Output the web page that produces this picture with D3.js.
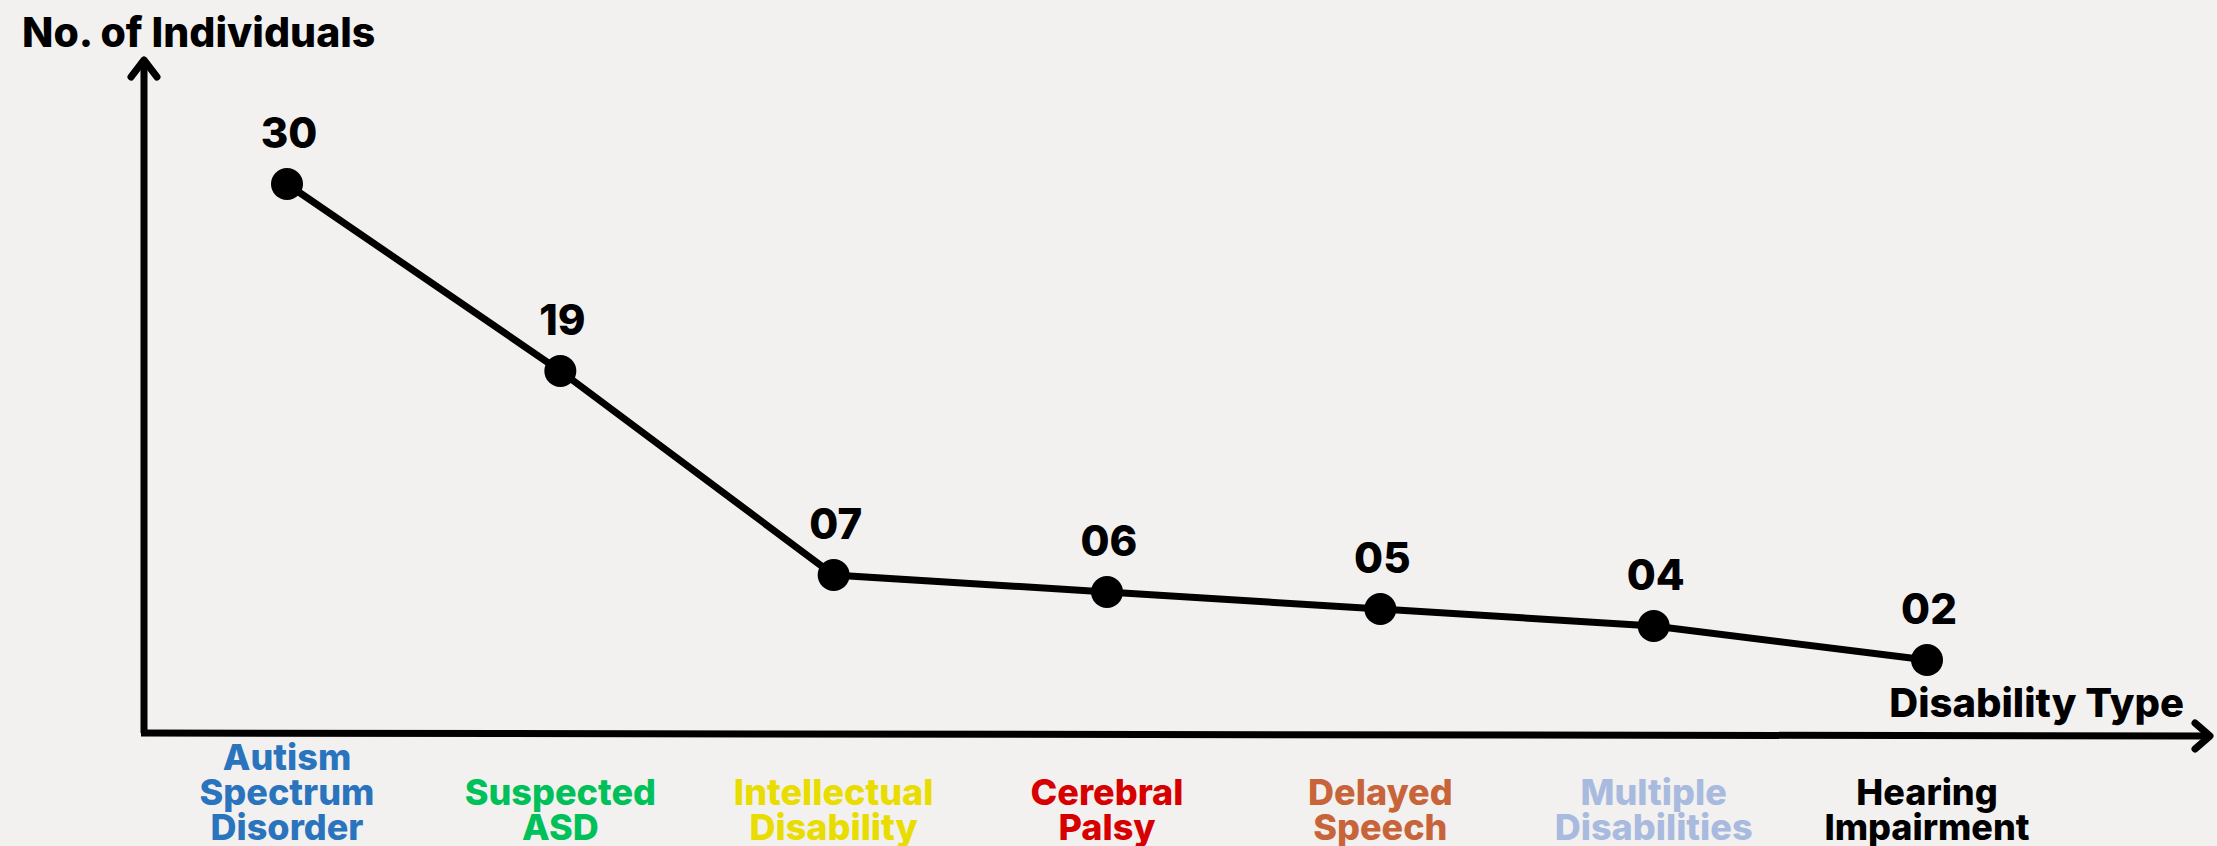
<!DOCTYPE html>
<html>
<head>
<meta charset="utf-8">
<script src="https://cdn.jsdelivr.net/npm/d3@7"></script>
<style>
  body { margin: 0; background: #f2f1ef; }
  svg { display: block; }
</style>
</head>
<body>
<svg></svg>
<script>
// data
const categories = [
  ["Autism", "Spectrum", "Disorder"],
  ["Suspected", "ASD"],
  ["Intellectual", "Disability"],
  ["Cerebral", "Palsy"],
  ["Delayed", "Speech"],
  ["Multiple", "Disabilities"],
  ["Hearing", "Impairment"]
]
const counts = [30, 19, 7, 6, 5, 4, 2]
const valueLabels = ["30", "19", "07", "06", "05", "04", "02"]
const catColors = ["#2a74be", "#00c05a", "#e9dc00", "#d60000", "#c8643a", "#a9badf", "#000000"]

const width = 2217
const height = 846
const font = "Inter, 'Noto Sans', sans-serif"

const svg = d3.select("svg")
    .attr("width", width)
    .attr("height", height)

svg.append("rect")
    .attr("width", width)
    .attr("height", height)
    .attr("fill", "#f2f1ef")

const x = d3.scalePoint()
    .domain(d3.range(counts.length))
    .range([287, 1927])

const y = d3.scaleLinear()
    .domain([0, 30])
    .range([694, 184])

const axisX0 = 144
const axisY0 = 733

// axes with open arrow heads
svg.append("path")
    .attr("d", `M${axisX0},${axisY0} L${axisX0},60`)
    .style("stroke", "#000").style("stroke-width", 7).style("fill", "none")
svg.append("path")
    .attr("d", `M${axisX0 - 13},77 L${axisX0},60 L${axisX0 + 13},77`)
    .style("stroke", "#000").style("stroke-width", 7).style("fill", "none")
    .style("stroke-linecap", "round").style("stroke-linejoin", "round")

svg.append("path")
    .attr("d", `M${axisX0 - 3},${axisY0} L2210,${axisY0 + 3}`)
    .style("stroke", "#000").style("stroke-width", 7).style("fill", "none")
svg.append("path")
    .attr("d", `M2195,${axisY0 - 10} L2210,${axisY0 + 3} L2195,${axisY0 + 16}`)
    .style("stroke", "#000").style("stroke-width", 7).style("fill", "none")
    .style("stroke-linecap", "round").style("stroke-linejoin", "round")

// axis titles
svg.append("text")
    .text("No. of Individuals")
    .attr("x", 22)
    .attr("y", 47)
    .style("font-family", font)
    .style("font-weight", "800")
    .style("font-size", "41px")
    .style("fill", "#000")

svg.append("text")
    .text("Disability Type")
    .attr("x", 2184)
    .attr("y", 717)
    .attr("text-anchor", "end")
    .style("font-family", font)
    .style("font-weight", "800")
    .style("font-size", "40px")
    .style("fill", "#000")

// line + points
const line = d3.line()
    .x((d, i) => x(i))
    .y(d => y(d))

svg.append("path")
    .datum(counts)
    .attr("d", line)
    .style("fill", "none")
    .style("stroke", "#000")
    .style("stroke-width", 7)

svg.selectAll(".dot")
    .data(counts)
    .join("circle")
    .attr("class", "dot")
    .attr("cx", (d, i) => x(i))
    .attr("cy", d => y(d))
    .attr("r", 16)
    .style("fill", "#000")

svg.selectAll(".val")
    .data(counts)
    .join("text")
    .attr("class", "val")
    .attr("x", (d, i) => x(i) + 2)
    .attr("y", d => y(d) - 36)
    .attr("text-anchor", "middle")
    .text((d, i) => valueLabels[i])
    .style("font-family", font)
    .style("font-weight", "800")
    .style("font-size", "42px")
    .style("fill", "#000")

// category labels, bottom aligned
const lineH = 35
const lastBaseline = 840
const cat = svg.selectAll(".cat")
    .data(categories)
    .join("text")
    .attr("class", "cat")
    .attr("text-anchor", "middle")
    .style("font-family", font)
    .style("font-weight", "800")
    .style("font-size", "36px")
    .style("fill", (d, i) => catColors[i])

cat.selectAll("tspan")
    .data((d, i) => d.map((w, j) => ({ w, j, n: d.length, i })))
    .join("tspan")
    .attr("x", d => x(d.i))
    .attr("y", d => lastBaseline - (d.n - 1 - d.j) * lineH)
    .text(d => d.w)
</script>
</body>
</html>
